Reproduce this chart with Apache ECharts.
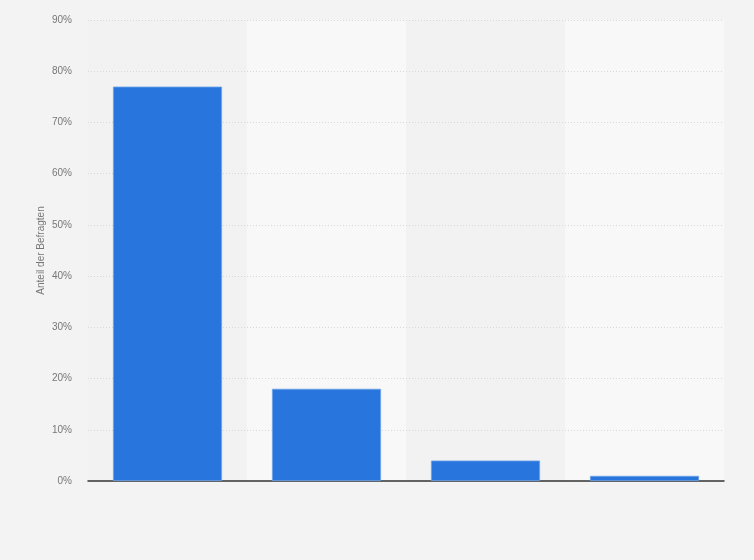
<!DOCTYPE html>
<html style="height: 100%; margin: 0;">
<head>
<meta charset="utf-8" />
<title></title>
<script src="https://cdn.jsdelivr.net/npm/echarts@6/dist/echarts.min.js"></script>
</head>
<body style="height: 100%; margin: 0; background: #f3f3f3;">
<div id="main" style="width: 754px; height: 560px;"></div>
<script type="text/javascript">
var categories = ['A', 'B', 'C', 'D'];
var values = [77, 18, 4, 1];
var yTicks = [0, 10, 20, 30, 40, 50, 60, 70, 80, 90];

var myChart = echarts.init(document.getElementById('main'));
myChart.setOption({
	backgroundColor: '#f3f3f3',
	animation: false,
	grid: { left: 88, right: 30, top: 20, bottom: 79 },
	xAxis: {
		type: 'category',
		data: categories,
		z: 0,
		axisLine: { lineStyle: { color: '#333', width: 1.5 } },
		axisTick: { show: false },
		axisLabel: { show: false },
		splitArea: { show: true, areaStyle: { color: ['#f2f2f2', '#f8f8f8'] } }
	},
	yAxis: {
		type: 'value',
		z: 1,
		min: yTicks[0],
		max: yTicks[yTicks.length - 1],
		interval: 10,
		name: 'Anteil der Befragten',
		nameLocation: 'middle',
		nameGap: 42,
		nameMoveOverlap: false,
		nameTextStyle: { color: '#777', fontSize: 10, fontFamily: 'Liberation Sans' },
		axisLine: { show: false },
		axisTick: { show: false },
		axisLabel: { formatter: '{value}%', color: '#777', fontSize: 10, fontFamily: 'Liberation Sans', margin: 16 },
		splitLine: { showMinLine: false, lineStyle: { color: '#d8d8d8', type: [1, 2] } }
	},
	series: [{
		type: 'bar',
		data: values,
		barWidth: '68.6%',
		itemStyle: { color: '#2876dd', borderColor: '#6fa3e8', borderWidth: 0.8 }
	}]
});
window.onresize = myChart.resize;
</script>
</body>
</html>
